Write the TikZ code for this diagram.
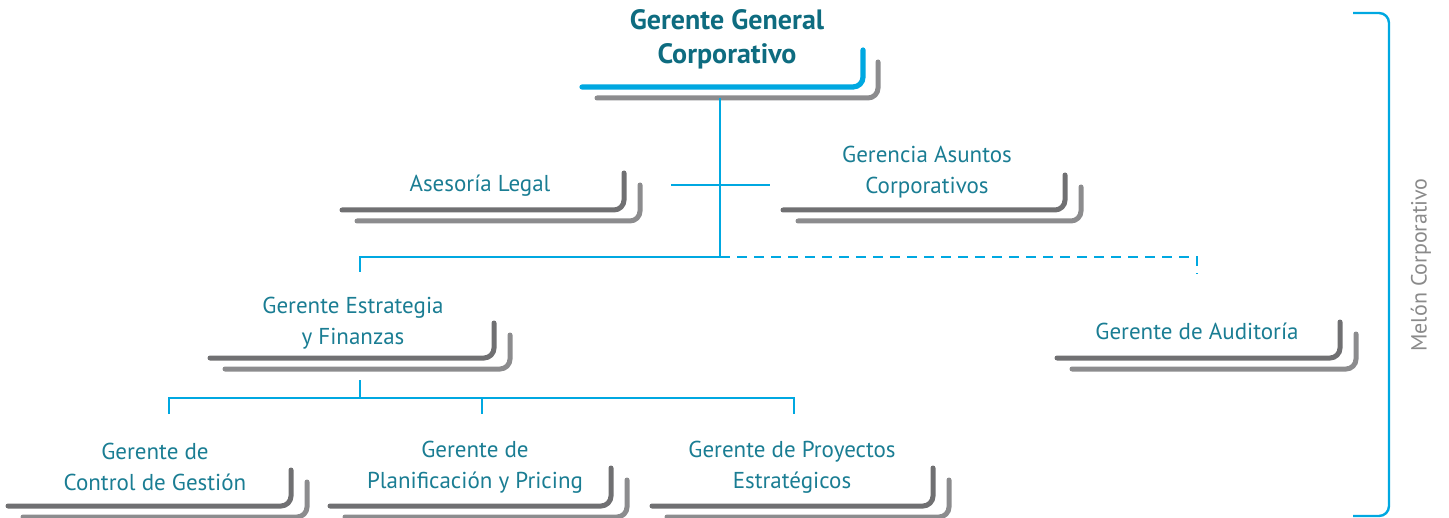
\documentclass[tikz,border=0pt]{standalone}
\usepackage{fontspec}
\setmainfont{PT Sans}
\definecolor{linkblue}{HTML}{00A8E1}
\definecolor{tealtext}{HTML}{1A7D93}
\definecolor{titletext}{HTML}{0E6C80}
\definecolor{frontgray}{HTML}{707072}
\definecolor{backgray}{HTML}{8C8C8E}
\definecolor{sidegray}{HTML}{8A8A8A}
\tikzset{
  frontbar/.style={draw=frontgray, line width=2.5pt, line cap=round, rounded corners=5pt},
  backbar/.style={draw=backgray, line width=2.5pt, line cap=round, rounded corners=5pt},
  bluebar/.style={draw=linkblue, line width=2.6pt, line cap=round, rounded corners=5pt},
  conn/.style={draw=linkblue, line width=1.35pt},
  dashconn/.style={conn, dash pattern=on 5pt off 3.5pt},
  label/.style={text=tealtext, font=\fontsize{11.5}{15.3}\selectfont, align=center, inner sep=0pt},
  title/.style={text=titletext, font=\fontsize{14}{17}\selectfont\bfseries, align=center, inner sep=0pt}
}
\newcommand\orgbars[4]{%
  \draw[backbar] (#1+15,#2+11) -- (#3+16,#2+11) -- (#3+16,#4+12);
  \draw[frontbar] (#1,#2) -- (#3,#2) -- (#3,#4);
}
\begin{document}
\begin{tikzpicture}[x=0.5pt,y=-0.5pt]
\useasboundingbox (0,0) rectangle (1449,518);
% top
\node[title] (gg) at (727,39) {Gerente General\\Corporativo};
\draw[backbar] (597,98) -- (878,98) -- (878,62);
\draw[bluebar] (582,87) -- (863,87) -- (863,50);
% second level
\node[label] (al) at (480,186) {Asesoría Legal};
\orgbars{342}{210}{624}{173}
\node[label] (gac) at (927,172) {Gerencia Asuntos\\Corporativos};
\orgbars{783}{210}{1065}{175}
% third level
\node[label] (gef) at (353,323) {Gerente Estrategia\\y Finanzas};
\orgbars{210}{358}{494}{323}
\node[label] (gau) at (1197,331) {Gerente de Auditoría};
\orgbars{1057}{358}{1340}{322}
% bottom level
\node[label] (gcg) at (155,467) {Gerente de\\Control de Gestión};
\orgbars{8}{506}{291}{470}
\node[label] (gpp) at (475,467) {Gerente de\\Planificación y Pricing};
\orgbars{330}{506}{611}{468}
\node[label] (gpe) at (792,467) {Gerente de Proyectos\\Estratégicos};
\orgbars{652}{506}{933}{468}
% connector coordinates
\coordinate (stemtop) at (720,98);
\coordinate (hub) at (720,257);
\coordinate (crossl) at (671,185);
\coordinate (crossr) at (770,185);
\coordinate (gefin) at (360,272);
\coordinate (gauin) at (1197,274);
\coordinate (gefout) at (360,380);
\coordinate (subhub) at (360,398);
\coordinate (gcgin) at (169,414);
\coordinate (gppin) at (482,414);
\coordinate (gpein) at (794,414);
% connectors
\draw[conn] (stemtop) -- (hub);
\draw[conn] (crossl) -- (crossr);
\draw[conn] (hub) -| (gefin);
\draw[dashconn] (hub) -| (gauin);
\draw[conn] (gefout) -- (subhub);
\draw[conn] (gcgin) |- (subhub) -| (gpein);
\draw[conn] (gppin) -- (gppin |- subhub);
% side bracket
\coordinate (brtop) at (1353,13);
\coordinate (brbot) at (1353,516);
\draw[draw=linkblue, line width=1.2pt, rounded corners=5pt] (brtop) -- (1389,13) -- (1389,516) -- (brbot);
\node[text=sidegray, font=\fontsize{11}{13}\selectfont, rotate=90, inner sep=0pt] (mc) at (1421,265) {Melón Corporativo};
\end{tikzpicture}
\end{document}
